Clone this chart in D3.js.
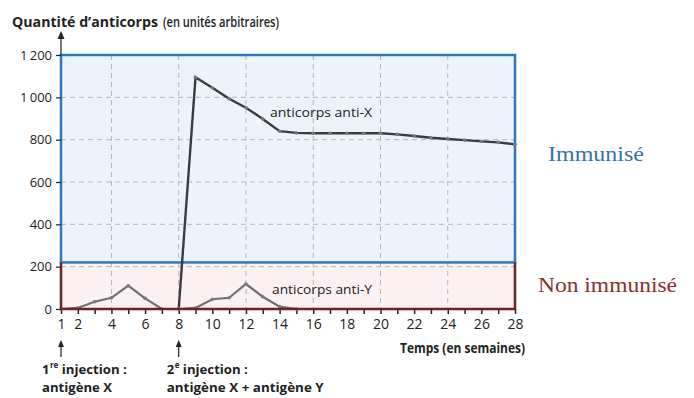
<!DOCTYPE html>
<html>
<head>
<meta charset="utf-8">
<script src="https://cdn.jsdelivr.net/npm/d3@7"></script>
<style>
  body { margin: 0; background: #fff; }
  text { font-family: "Open Sans", "DejaVu Sans", sans-serif; fill: #222; }
  .serif { font-family: "Liberation Serif", "DejaVu Serif", serif; }
</style>
</head>
<body>
<div id="chart"></div>
<script>
// weeks and antibody amounts
const weeks = d3.range(1, 29);
const antiX = [0, 5, 34, 53, 110, 50, 0, 0, 1095, 1045, 993, 951, 898, 840,
               832, 830, 830, 830, 830, 830, 825, 817, 809, 803, 798, 792, 787, 778];
const antiY = [null, null, null, null, null, null, null, 0, 5, 46, 53, 118, 58, 11,
               0, 0, 0, 0, 0, 0, 0, 0, 0, 0, 0, 0, 0, 0];
const yTicks = [0, 200, 400, 600, 800, 1000, 1200];
const xLabels = [1, 2, 4, 6, 8, 10, 12, 14, 16, 18, 20, 22, 24, 26, 28];
const gridWeeks = [4, 8, 12, 16, 20, 24];
const immuneThreshold = 220;

const width = 694, height = 398;
const svg = d3.select("#chart").append("svg")
    .attr("width", width)
    .attr("height", height);

const x = d3.scaleLinear().domain([1, 28]).range([61, 515]);
const y = d3.scaleLinear().domain([0, 1200]).range([309, 55]);

// zones
svg.append("rect")
    .attr("x", x(1)).attr("y", y(1200))
    .attr("width", x(28) - x(1)).attr("height", y(immuneThreshold) - y(1200))
    .attr("fill", "#edf3fb");
svg.append("rect")
    .attr("x", x(1)).attr("y", y(immuneThreshold))
    .attr("width", x(28) - x(1)).attr("height", y(0) - y(immuneThreshold))
    .attr("fill", "#fbf1f3");

// dashed grid
svg.append("g").selectAll("line.h")
    .data(yTicks.filter(d => d > 0 && d < 1200))
    .join("line")
    .attr("x1", x(1)).attr("x2", x(28))
    .attr("y1", d => y(d)).attr("y2", d => y(d))
    .attr("stroke", "#b4b4bc").attr("stroke-width", 1)
    .attr("stroke-dasharray", "5,4");
svg.append("g").selectAll("line.v")
    .data(gridWeeks)
    .join("line")
    .attr("x1", d => x(d)).attr("x2", d => x(d))
    .attr("y1", y(1200)).attr("y2", y(0))
    .attr("stroke", "#b4b4bc").attr("stroke-width", 1)
    .attr("stroke-dasharray", "5,4");

// immunised frame (blue)
svg.append("rect")
    .attr("x", x(1)).attr("y", y(1200))
    .attr("width", x(28) - x(1)).attr("height", y(immuneThreshold) - y(1200))
    .attr("fill", "none").attr("stroke", "#2f78b7").attr("stroke-width", 2.5);

// y axis
const yAxis = svg.append("g")
    .attr("transform", `translate(${x(1)},0)`)
    .call(d3.axisLeft(y).tickValues(yTicks).tickSize(5)
        .tickFormat(d => d3.format(",")(d).replace(",", "\u2009")));
yAxis.select(".domain").remove();
yAxis.selectAll("text").attr("font-size", 13).attr("dx", -1)
    .style("font-family", "'Open Sans', sans-serif").attr("fill", "#222");
yAxis.selectAll("line").attr("stroke", "#222").attr("stroke-width", 1.2);

// x axis
const xAxis = svg.append("g")
    .attr("transform", `translate(0,${y(0)})`)
    .call(d3.axisBottom(x).tickValues(weeks).tickSize(5)
        .tickFormat(d => xLabels.includes(d) ? d : ""));
xAxis.select(".domain").remove();
xAxis.selectAll("text").attr("font-size", 14).attr("dy", "0.85em")
    .style("font-family", "'Open Sans', sans-serif").attr("fill", "#222");
xAxis.selectAll("line").attr("stroke", "#222").attr("stroke-width", 1.5);

// vertical axis arrow
svg.append("line")
    .attr("x1", x(1)).attr("x2", x(1))
    .attr("y1", y(1200)).attr("y2", 36)
    .attr("stroke", "#222").attr("stroke-width", 1.2);
svg.append("path")
    .attr("d", `M${x(1)},31l-3.5,8h7z`)
    .attr("fill", "#222");

// curves
const line = d3.line()
    .defined(d => d.v !== null)
    .x(d => x(d.w)).y(d => y(d.v));
const xPts = weeks.map((w, i) => ({w, v: antiX[i]}));
const yPts = weeks.map((w, i) => ({w, v: antiY[i]}));
const primary = xPts.filter(d => d.w <= 8);
const secondary = xPts.filter(d => d.w >= 8);

svg.append("path").datum(primary).attr("d", line)
    .attr("fill", "none").attr("stroke", "#707070").attr("stroke-width", 2.2);
svg.append("path").datum(yPts).attr("d", line)
    .attr("fill", "none").attr("stroke", "#707070").attr("stroke-width", 2.2);
svg.append("path").datum(secondary).attr("d", line)
    .attr("fill", "none").attr("stroke", "#3a3a40").attr("stroke-width", 2.4);

svg.append("g").selectAll("circle")
    .data(primary.concat(yPts.filter(d => d.v !== null && d.w <= 15), secondary))
    .join("circle")
    .attr("cx", d => x(d.w)).attr("cy", d => y(d.v))
    .attr("r", 1.8).attr("fill", "#7a7a80");

// non immunised frame (dark red) over the zero part of the curves
svg.append("path")
    .attr("d", `M${x(1)},${y(immuneThreshold)}V${y(0)}H${x(28)}V${y(immuneThreshold)}`)
    .attr("fill", "none").attr("stroke", "#6e2424").attr("stroke-width", 2.5);

// curve labels
svg.append("text").attr("x", 270).attr("y", 117)
    .attr("font-size", 13.5).attr("fill", "#333")
    .attr("textLength", 102).attr("lengthAdjust", "spacingAndGlyphs")
    .text("anticorps anti-X");
svg.append("text").attr("x", 272).attr("y", 294)
    .attr("font-size", 13.5).attr("fill", "#333")
    .attr("textLength", 100).attr("lengthAdjust", "spacingAndGlyphs")
    .text("anticorps anti-Y");

// zone labels
svg.append("text").attr("class", "serif").attr("x", 548).attr("y", 161)
    .attr("font-size", 22).style("fill", "#3e70a8")
    .attr("textLength", 96).attr("lengthAdjust", "spacingAndGlyphs")
    .text("Immunisé");
svg.append("text").attr("class", "serif").attr("x", 538).attr("y", 292)
    .attr("font-size", 22).style("fill", "#8c2f2f")
    .attr("textLength", 139).attr("lengthAdjust", "spacingAndGlyphs")
    .text("Non immunisé");

// axis titles
svg.append("text").attr("x", 12).attr("y", 27)
    .attr("font-size", 14).attr("font-weight", "bold")
    .attr("textLength", 146).attr("lengthAdjust", "spacingAndGlyphs")
    .text("Quantité d’anticorps");
svg.append("text").attr("x", 163).attr("y", 27)
    .attr("font-size", 14).attr("font-weight", 600)
    .attr("textLength", 116).attr("lengthAdjust", "spacingAndGlyphs")
    .text("(en unités arbitraires)");

svg.append("text").attr("x", 400).attr("y", 353)
    .attr("font-size", 14.5).attr("font-weight", "bold")
    .attr("textLength", 125).attr("lengthAdjust", "spacingAndGlyphs")
    .text("Temps (en semaines)");

// injection annotations
const injections = [
    {w: 1, num: "1", sup: "re", lines: ["injection :", "antigène X"], dx: -19, len: [65, 70]},
    {w: 8, num: "2", sup: "e", lines: ["injection :", "antigène X + antigène Y"], dx: -12, len: [65, 157]}
];
injections.forEach(inj => {
    const cx = x(inj.w);
    const x0 = cx + inj.dx;
    svg.append("line")
        .attr("x1", cx).attr("x2", cx).attr("y1", 346).attr("y2", 357)
        .attr("stroke", "#222").attr("stroke-width", 1.2);
    svg.append("path").attr("d", `M${cx},340l-3,7h6z`).attr("fill", "#222");
    const num = svg.append("text").attr("x", x0).attr("y", 374)
        .attr("font-size", 13).attr("font-weight", "bold")
        .text(inj.num);
    const nw = num.node().getComputedTextLength();
    const sup = svg.append("text").attr("x", x0 + nw + 0.5).attr("y", 368)
        .attr("font-size", 8).attr("font-weight", "bold")
        .text(inj.sup);
    const sw = sup.node().getComputedTextLength();
    svg.append("text").attr("x", x0 + nw + sw + 4).attr("y", 374)
        .attr("font-size", 13).attr("font-weight", "bold")
        .attr("textLength", inj.len[0]).attr("lengthAdjust", "spacingAndGlyphs")
        .text(inj.lines[0]);
    svg.append("text").attr("x", x0).attr("y", 392)
        .attr("font-size", 13).attr("font-weight", "bold")
        .attr("textLength", inj.len[1]).attr("lengthAdjust", "spacingAndGlyphs")
        .text(inj.lines[1]);
});
</script>
</body>
</html>
